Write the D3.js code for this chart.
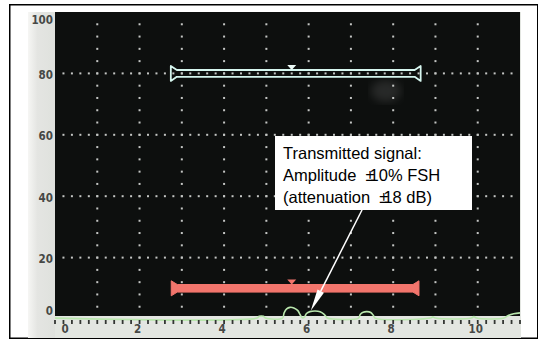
<!DOCTYPE html>
<html>
<head>
<meta charset="utf-8">
<script src="https://cdn.jsdelivr.net/npm/d3@7"></script>
<style>
  body { margin: 0; background: #fff; }
  svg { display: block; }
</style>
</head>
<body>
<div id="chart"></div>
<script>
// screen readout: time in screen divisions, amplitude in % FSH
const yTicks = [0, 20, 40, 60, 80, 100];
const xTicks = [0, 2, 4, 6, 8, 10];

const sigTime = [0, 4.78, 4.83, 4.88, 4.93, 4.98, 5.38, 5.42, 5.48, 5.56, 5.65, 5.74, 5.80, 5.85,
    5.90, 5.95, 6.03, 6.15, 6.27, 6.36, 6.41, 6.44, 7.18, 7.22, 7.29, 7.38, 7.47, 7.53, 7.57,
    8.88, 8.94, 9.00, 9.85, 9.91, 9.97, 10.62, 10.70, 10.85, 11];
const sigAmp = [0.3, 0.3, 0.9, 1.0, 0.9, 0.3, 0.3, 2.0, 3.3, 3.8, 3.6, 2.8, 1.4, 0.4,
    0.6, 1.8, 2.4, 2.6, 2.4, 1.6, 0.8, 0.3, 0.3, 1.5, 2.2, 2.4, 2.1, 1.2, 0.3,
    0.3, 0.7, 0.3, 0.3, 0.8, 0.3, 0.3, 1.0, 1.7, 2.0];

const gateNames = ['B', 'A'];
const gateStart = [2.74, 2.75];
const gateEnd = [8.65, 8.61];
const gateLevel = [80, 10];
const gateMarker = [5.6, 5.6];
const gateColor = ['#d6f6ef', '#f2756c'];

const noteLines = ['Transmitted signal:', 'Amplitude', '(attenuation'];
const noteValues = ['', '10% FSH', '18 dB)'];

const W = 538, H = 340;
const scr = {left: 55, right: 520, top: 12, bottom: 316};

const x = d3.scaleLinear().domain([0, 11]).range([scr.left, scr.right]);
const y = d3.scaleLinear().domain([0, 100]).range([319, 12]);

const svg = d3.select('#chart').append('svg')
    .attr('width', W).attr('height', H);

const defs = svg.append('defs');
const panelGrad = defs.append('linearGradient')
    .attr('id', 'panelGrad')
    .attr('x1', '0%').attr('x2', '100%');
panelGrad.append('stop').attr('offset', '0%').attr('stop-color', '#f6f6f4');
panelGrad.append('stop').attr('offset', '35%').attr('stop-color', '#e4e5e2');
panelGrad.append('stop').attr('offset', '100%').attr('stop-color', '#dfe1dd');

defs.append('filter').attr('id', 'blur')
    .append('feGaussianBlur').attr('stdDeviation', 4);

// outer frame
svg.append('rect')
    .attr('x', 9.75).attr('y', 4.75)
    .attr('width', 528).attr('height', 333.5)
    .attr('fill', '#fff').attr('stroke', '#000').attr('stroke-width', 1.5);

// photo background: left scale panel + bottom ruler
svg.append('rect')
    .attr('x', 28).attr('y', scr.top)
    .attr('width', 493).attr('height', 338 - scr.top)
    .attr('fill', '#e3e6e1');
svg.append('rect')
    .attr('x', 28).attr('y', scr.top)
    .attr('width', scr.left - 28).attr('height', 338 - scr.top)
    .attr('fill', 'url(#panelGrad)');

// the screen
svg.append('rect')
    .attr('x', scr.left).attr('y', scr.top)
    .attr('width', scr.right - scr.left).attr('height', scr.bottom - scr.top)
    .attr('fill', '#0d0f0e');

// faint reflection on the glass
svg.append('ellipse')
    .attr('cx', 386).attr('cy', 91)
    .attr('rx', 15).attr('ry', 11)
    .attr('fill', '#777').attr('opacity', 0.25)
    .attr('filter', 'url(#blur)');

// dotted grid
const dotC = '#c4c6c4';
const rowDots = d3.range(1, 55).map(k => k / 5);
yTicks.filter(v => v > 0 && v < 100).forEach(v => {
    svg.append('g').selectAll('rect').data(rowDots).join('rect')
        .attr('x', d => x(d) - 1).attr('y', y(v) - 1)
        .attr('width', 2).attr('height', 2)
        .attr('fill', dotC);
});
const colDots = d3.range(4, 100, 4);
d3.range(1, 11).forEach(c => {
    svg.append('g').selectAll('rect').data(colDots).join('rect')
        .attr('x', x(c) - 1).attr('y', d => y(d) - 1)
        .attr('width', 2).attr('height', 2)
        .attr('fill', dotC);
});

// gates
const gatePath = (i, th) => {
    const s = x(gateStart[i]), e = x(gateEnd[i]), c = y(gateLevel[i]);
    const fl = 7.5, tp = 6;
    return `M${s},${c - fl} L${s + tp},${c - th} L${e - tp},${c - th} L${e},${c - fl}
        L${e},${c + fl} L${e - tp},${c + th} L${s + tp},${c + th} L${s},${c + fl} Z`;
};
gateNames.forEach((g, i) => {
    const filled = g === 'A';
    const th = filled ? 3.8 : 3.4;
    svg.append('path')
        .attr('d', gatePath(i, th))
        .attr('fill', filled ? gateColor[i] : 'none')
        .attr('stroke', gateColor[i])
        .attr('stroke-width', filled ? 1 : 1.8)
        .attr('stroke-linejoin', 'round');
    const mx = x(gateMarker[i]), top = y(gateLevel[i]) - th;
    svg.append('path')
        .attr('d', `M${mx - 4.5},${top - 5} L${mx + 4.5},${top - 5} L${mx},${top} Z`)
        .attr('fill', filled ? gateColor[i] : '#eefcf8');
});

// A-scan trace
const sig = sigTime.map((t, i) => ({t, a: sigAmp[i]}));
svg.append('path')
    .datum(sig)
    .attr('d', d3.line().x(d => x(d.t)).y(d => y(d.a)).curve(d3.curveCatmullRom.alpha(0.5)))
    .attr('fill', 'none')
    .attr('stroke', '#b9e6ad')
    .attr('stroke-width', 1.6);

// ruler ticks along the bottom
svg.append('g').selectAll('line').data(d3.range(0, 11.01, 0.2)).join('line')
    .attr('x1', d => x(d)).attr('x2', d => x(d))
    .attr('y1', 320).attr('y2', 324)
    .attr('stroke', '#333633').attr('stroke-width', 1.8);

const labFont = '"Liberation Sans Narrow", "DejaVu Sans Condensed", sans-serif';
svg.append('g').selectAll('text').data(xTicks).join('text')
    .attr('x', d => Math.max(x(d) - 2, 65))
    .attr('y', 333)
    .attr('text-anchor', 'middle')
    .style('font-family', labFont).style('font-size', '11.5px').style('font-weight', 'bold')
    .attr('fill', '#464846')
    .text(d => d);

svg.append('g').selectAll('text').data(yTicks).join('text')
    .attr('x', 53)
    .attr('y', d => Math.min(Math.max(y(d) + 2, 20), 311))
    .attr('text-anchor', 'end')
    .attr('dominant-baseline', 'middle')
    .style('font-family', labFont).style('font-size', '11.5px').style('font-weight', 'bold')
    .attr('fill', '#464846')
    .text(d => d);

// annotation
const note = {x: 275, y: 136, w: 197, h: 74};
svg.append('rect')
    .attr('x', note.x).attr('y', note.y)
    .attr('width', note.w).attr('height', note.h)
    .attr('fill', '#fff');

const noteText = svg.append('text')
    .style('font-family', '"Liberation Sans", Arial, sans-serif')
    .style('font-size', '16.5px')
    .attr('fill', '#000');
noteLines.forEach((l, i) => {
    const baseY = 158.5 + i * 22;
    noteText.append('tspan').attr('x', 283).attr('y', baseY).text(l);
    if (noteValues[i]) {
        noteText.append('tspan').attr('xml:space', 'preserve').text('  \u00b1');
        noteText.append('tspan').attr('dx', -5).text(noteValues[i]);
    }
});

// arrow to the transmitted pulse
const tip = [x(6.05), y(2.7)];
const tail = [362, note.y + note.h];
const ang = Math.atan2(tip[1] - tail[1], tip[0] - tail[0]);
const hl = 22, hw = 3.6;
const bx = tip[0] - hl * Math.cos(ang), by = tip[1] - hl * Math.sin(ang);
svg.append('line')
    .attr('x1', tail[0]).attr('y1', tail[1])
    .attr('x2', bx).attr('y2', by)
    .attr('stroke', '#fff').attr('stroke-width', 1.5);
svg.append('path')
    .attr('d', `M${tip[0]},${tip[1]}
        L${bx + hw * Math.sin(ang)},${by - hw * Math.cos(ang)}
        L${bx - hw * Math.sin(ang)},${by + hw * Math.cos(ang)} Z`)
    .attr('fill', '#fff');
</script>
</body>
</html>
